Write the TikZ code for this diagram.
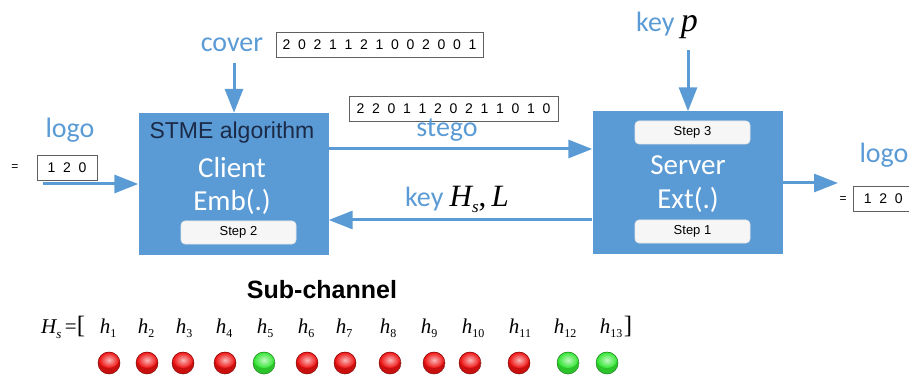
\documentclass[tikz,border=0pt]{standalone}
\usepackage{fontspec}
\setmainfont{Liberation Sans}
\newfontfamily\calib{Carlito}
\newfontfamily\tms{Liberation Serif}
\usetikzlibrary{arrows.meta,calc}

\definecolor{blueM}{HTML}{5B9BD5}
\definecolor{blueL}{HTML}{5B9BD5}
\definecolor{navy}{HTML}{1B2A47}
\definecolor{ballred}{HTML}{EE1111}
\definecolor{ballgreen}{HTML}{33E633}

\newcommand\fs[1]{\fontsize{#1}{#1}\selectfont}
% font of the digit strings, with wide word spacing
\newcommand\digitfont{\fontsize{14}{14}\selectfont\spaceskip=7.7pt\relax}
% subscripted channel symbol h_i
\newcommand\hch[1]{{\tms\itshape h}\raisebox{-4pt}{\tms\fs{12}#1}}

\tikzset{
  block/.style={fill=blueM, draw=none, minimum width=190pt, minimum height=142pt, inner sep=0},
  stepbox/.style={fill=gray!7, draw=white!80!gray, line width=0.6pt, rounded corners=4pt,
    minimum width=115pt, minimum height=23pt, inner sep=0, font=\fs{13}},
  databox/.style={draw=gray!75!black, fill=white, line width=0.7pt, minimum height=25pt,
    inner sep=0, font=\digitfont},
  label/.style={text=blueL, font=\calib\fs{28}, inner sep=0},
  inner/.style={text=white, font=\calib\fs{29}, inner sep=0},
  flow/.style={draw=blueM, line width=3pt, -{Triangle[length=24pt,width=18pt]}},
  chan/.style={font=\fs{21}, inner sep=0, anchor=base},
}

% glossy coloured ball: #1 colour, #2 centre
\newcommand\glossball[2]{%
  \begin{scope}
    \clip #2 circle (11pt);
    \fill[#1!85!black] #2 circle (11pt);
    \shade[inner color=#1!30!white, outer color=#1] ($#2+(0,3pt)$) ellipse (10pt and 8pt);
  \end{scope}
  \draw[#1!55!black, line width=0.5pt] #2 circle (11pt);
}

\begin{document}
\begin{tikzpicture}[x=1pt,y=-1pt]
\useasboundingbox (0,0) rectangle (909,379);
\clip (0,0) rectangle (909,379);

% embedding and extraction blocks
\node[block] (client) at (233.5,184) {};
\node[block] (server) at (687.5,182.5) {};

\node[text=navy, font=\fs{23}, inner sep=0] (stme) at (232,133) {STME algorithm};
\node[inner] (cl) at (232,168) {Client};
\node[inner] (emb) at (232,202) {Emb(.)};
\node[stepbox] (s2) at (238.5,232.5) {Step 2};

\node[stepbox] (s3) at (692.5,132.5) {Step 3};
\node[inner] (sv) at (688,165) {Server};
\node[inner] (ext) at (688,200) {Ext(.)};
\node[stepbox] (s1) at (692.5,231.5) {Step 1};

% input logo
\node[label] (logoL) at (70,130) {logo};
\node[font=\fs{12}, inner sep=0] (eqL) at (15,168) {=};
\node[databox, minimum width=60pt] (valL) at (67,168) {1 2 0};
\coordinate (inL) at (43,184);
\draw[flow] (inL) -- (client.west);

% cover
\node[label] (cover) at (232,45) {cover};
\node[databox, minimum width=207pt] (covval) at (379.5,44.5) {2 0 2 1 1 2 1 0 0 2 0 0 1};
\coordinate (covA) at (234,63);
\draw[flow] (covA) -- (covA |- client.north);

% stego
\node[databox, minimum width=209pt] (stegoval) at (453.5,108.5) {2 2 0 1 1 2 0 2 1 1 0 1 0};
\node[label] (stego) at (447,130) {stego};
\coordinate (sy) at (0,149);
\draw[flow] (client.east |- sy) -- (server.west |- sy);

% key H_s, L
\node[label, anchor=base] (keyH) at (457,207)
  {key {\color{black}\tms\itshape\fs{31}H\raisebox{-6pt}{\fs{17}s}{\upshape,}\,L}};
\coordinate (ky) at (0,220);
\draw[flow] (server.west |- ky) -- (client.east |- ky);

% key p
\node[label, anchor=base] (keyP) at (667,32) {key {\color{black}\tms\itshape\fs{34}p}};
\coordinate (kpA) at (688,50);
\draw[flow] (kpA) -- (kpA |- server.north);

% output logo
\coordinate (outR) at (838,183);
\draw[flow] (server.east |- outR) -- (outR);
\node[label] (logoR) at (884,155) {logo};
\node[font=\fs{12}, inner sep=0] (eqR) at (843,200) {=};
\node[databox, minimum width=60pt, anchor=west] (valR) at (853,199) {1 2 0};

% sub-channel vector
\node[font=\bfseries\fs{25}, inner sep=0] (sub) at (322,290) {Sub-channel};
\node[chan, anchor=base west] (Hs) at (41,333)
  {{\tms\itshape H}\raisebox{-5pt}{\tms\itshape\fs{13}s}\,{\tms=}{\tms\fs{25}[}};
\foreach \hx/\bx/\c [count=\i] in {108/109/ballred, 146/147/ballred, 184/183/ballred,
    224/225/ballred, 265/264/ballgreen, 306/307/ballred, 344/345/ballred, 388/390/ballred,
    429/434/ballred, 473/470/ballred, 520/519/ballred, 565/568/ballgreen, 611/607/ballgreen}{
  \node[chan] (h\i) at (\hx,333) {\hch{\i}};
  \glossball{\c}{(\bx,363)}
}
\node[chan] (rb) at (628,333) {{\tms\fs{25}]}};
\end{tikzpicture}
\end{document}
